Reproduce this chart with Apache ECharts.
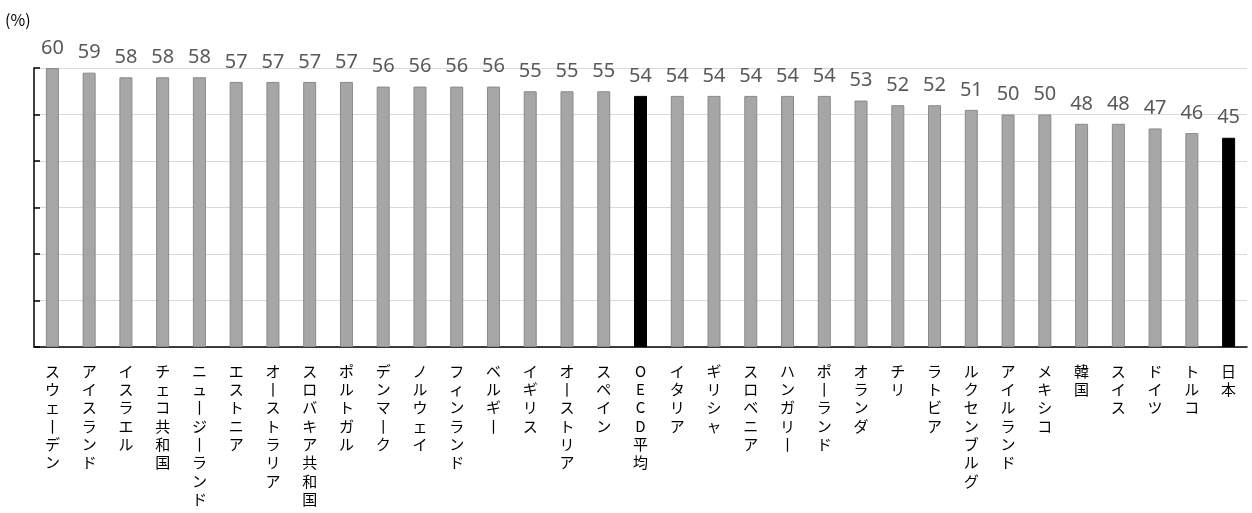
<!DOCTYPE html>
<html>
<head>
<meta charset="utf-8">
<script src="https://cdn.jsdelivr.net/npm/echarts@6/dist/echarts.min.js"></script>
<style>
  html, body { margin: 0; padding: 0; background: #fff; }
  #chart { width: 1252px; height: 513px; }
</style>
</head>
<body>
<div id="chart"></div>
<script>
// 国名と値 (%)
var countries = ['スウェーデン', 'アイスランド', 'イスラエル', 'チェコ共和国', 'ニュージーランド',
  'エストニア', 'オーストラリア', 'スロバキア共和国', 'ポルトガル', 'デンマーク', 'ノルウェイ',
  'フィンランド', 'ベルギー', 'イギリス', 'オーストリア', 'スペイン', 'OECD平均', 'イタリア',
  'ギリシャ', 'スロベニア', 'ハンガリー', 'ポーランド', 'オランダ', 'チリ', 'ラトビア',
  'ルクセンブルグ', 'アイルランド', 'メキシコ', '韓国', 'スイス', 'ドイツ', 'トルコ', '日本'];
var values = [60, 59, 58, 58, 58, 57, 57, 57, 57, 56, 56, 56, 56, 55, 55, 55, 54, 54,
  54, 54, 54, 54, 53, 52, 52, 51, 50, 50, 48, 48, 47, 46, 45];
var highlighted = ['OECD平均', '日本'];
var yTicks = [0, 60, 10]; // min, max, interval

var chart = echarts.init(document.getElementById('chart'));

// 縦書き風にする (長音は縦棒に)
function toVertical(s) {
  return s.replace(/ー/g, '丨').split('').join('\n');
}

var barData = values.map(function (v, i) {
  if (highlighted.indexOf(countries[i]) >= 0) {
    return { value: v, itemStyle: { color: '#000', borderColor: '#000', borderWidth: 1 } };
  }
  return v;
});

var option = {
  animation: false,
  graphic: [{
    type: 'text', left: 5, top: 12,
    style: { text: '(%)', font: '16px "Noto Sans CJK JP"', fill: '#000' }
  }],
  grid: { left: 34, right: 5, top: 68, bottom: 166 },
  xAxis: {
    type: 'category',
    data: countries,
    axisLine: { lineStyle: { color: '#000', width: 1.5 } },
    axisTick: { show: false },
    axisLabel: {
      interval: 0,
      margin: 15,
      verticalAlign: 'top',
      fontFamily: 'Noto Sans CJK JP',
      fontSize: 15,
      lineHeight: 18.3,
      color: '#000',
      formatter: toVertical
    }
  },
  yAxis: {
    type: 'value',
    min: yTicks[0],
    max: yTicks[1],
    interval: yTicks[2],
    axisLine: { show: true, lineStyle: { color: '#000', width: 1.5 } },
    axisTick: { show: true, inside: true, length: 6, lineStyle: { color: '#000', width: 1.5 } },
    axisLabel: { show: false },
    splitLine: { lineStyle: { color: '#d9d9d9', width: 1 } }
  },
  series: [{
    type: 'bar',
    data: barData,
    barWidth: 13,
    itemStyle: { color: '#a6a6a6', borderColor: '#8a8a8a', borderWidth: 1 },
    label: {
      show: true,
      position: 'top',
      distance: 10,
      fontFamily: 'Noto Sans',
      fontSize: 20,
      color: '#595959'
    }
  }]
};

chart.setOption(option);
</script>
</body>
</html>
